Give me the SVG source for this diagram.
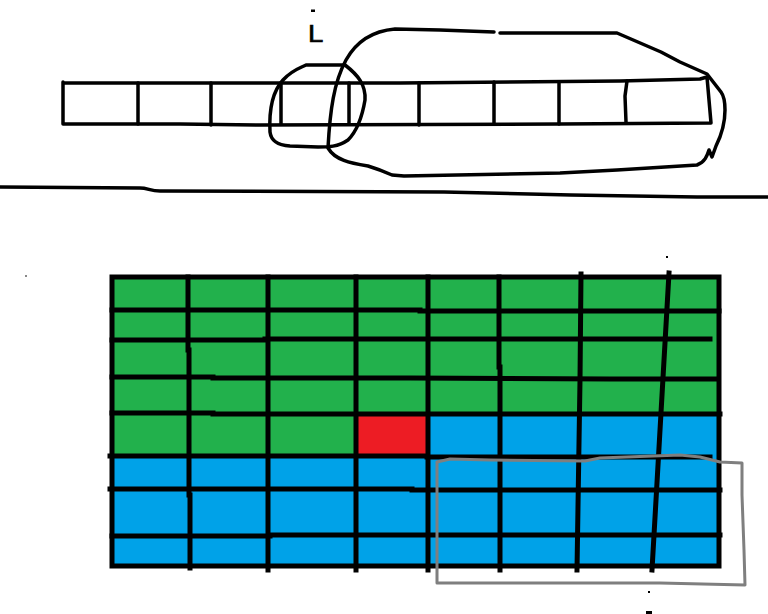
<svg xmlns="http://www.w3.org/2000/svg" width="768" height="614" viewBox="0 0 768 614">
<style>
.ink{fill:none;stroke:#000;stroke-width:3.5;stroke-linecap:round;stroke-linejoin:round}
.grid{fill:none;stroke:#000;stroke-width:5;stroke-linecap:square}
.grey{fill:none;stroke:#7f7f7f;stroke-width:3;stroke-linejoin:round}
.g{fill:#22b14c}.b{fill:#00a2e8}.r{fill:#ed1c24}
</style>
<rect width="768" height="614" fill="#fff"/>
<g id="label-i">
<rect x="311" y="9.5" width="4" height="2.5" fill="#000"/>
<text x="308" y="42" font-family="Liberation Sans, Arial, sans-serif" font-size="23" fill="#000" stroke="#000" stroke-width="0.6" transform="translate(308 0) scale(1.2 1) translate(-308 0)">L</text>
</g>
<g id="strip">
<path class="ink" d="M63 82 L63 124 M63 83 L400 83 L620 81 L700 79 L707 77 M63 124 L180 124 L260 125 L560 124 L711 123 L707 77"/>
<path class="ink" d="M138 83 V124 M211 83 V125 M281 83 V124 M349 83 V124 M419 83 V125 M494 82 V124 M559 82 V124 M627 81 L625 96 L626 122"/>
</g>
<g id="circle-small">
<path class="ink" d="M283 80 C292 70 300 68 306 65 L345 65 C358 75 366 85 365 100 C362 118 356 132 348 140 C338 147 328 147 318 147 L290 146 C276 145 271 140 270 132 C269 112 272 92 283 80 Z"/>
</g>
<g id="circle-large">
<path class="ink" d="M494 32 L440 30 L395 29 C372 31 356 42 346 60 C334 82 330 110 328 148 C335 160 350 163 368 166 C378 169 383 171 392 175 L404 176 L560 173 L617 170 L697 165 C705 162 707 156 709 150 L712 157 L716 146 C721 136 725 125 725 110 C725 100 724 96 721 92 L707 74 L680 62 L661 52 L617 33 L500 33"/>
</g>
<g id="ground">
<path class="ink" d="M0 187 L140 188 C148 188 150 191 160 191 L444 192 L571 195 L697 197 L768 197"/>
</g>
<g id="grid">
<rect class="g" x="112" y="277" width="607" height="137"/>
<rect class="g" x="112" y="414" width="244" height="42"/>
<rect class="r" x="356" y="414" width="72" height="42"/>
<rect class="b" x="428" y="414" width="291" height="42"/>
<rect class="b" x="112" y="456" width="607" height="110"/>
<path class="grid" d="M112 310 H420 V311 H719 M112 340 H265 V339 H560 H710 M112 377 H213 V378 H410 L610 379 H715 M112 413 H213 V414 H580 H720 M110 456 H427 V457 H710 M110 489 H412 V490 H720 M112 536 H270 V535 H720"/>
<path class="grid" d="M188 277 V350 M189 350 V495 M190 495 V568 M268 277 V423 M268 423 V570 M356 277 V570 M428 277 V570 M499 277 V367 M500 367 V570 M581 274 L580 380 L577 570 M669 273 L652 570"/>
<rect class="grid" x="112" y="277" width="607" height="289"/>
</g>
<g id="grey-box">
<path class="grey" d="M437 462 L450 459 L490 460 L585 461 L600 458 L680 455 L700 457 L720 462 L742 463 L742 495 L744 550 L745 585 L660 583 L437 583 Z"/>
</g>
<g id="marks" fill="#000">
<rect x="666" y="256" width="2" height="2"/>
<rect x="648" y="591" width="2" height="2"/>
<rect x="646" y="611" width="6" height="3"/>
<rect x="25" y="275" width="2" height="2" fill="#888"/>
</g>
</svg>
